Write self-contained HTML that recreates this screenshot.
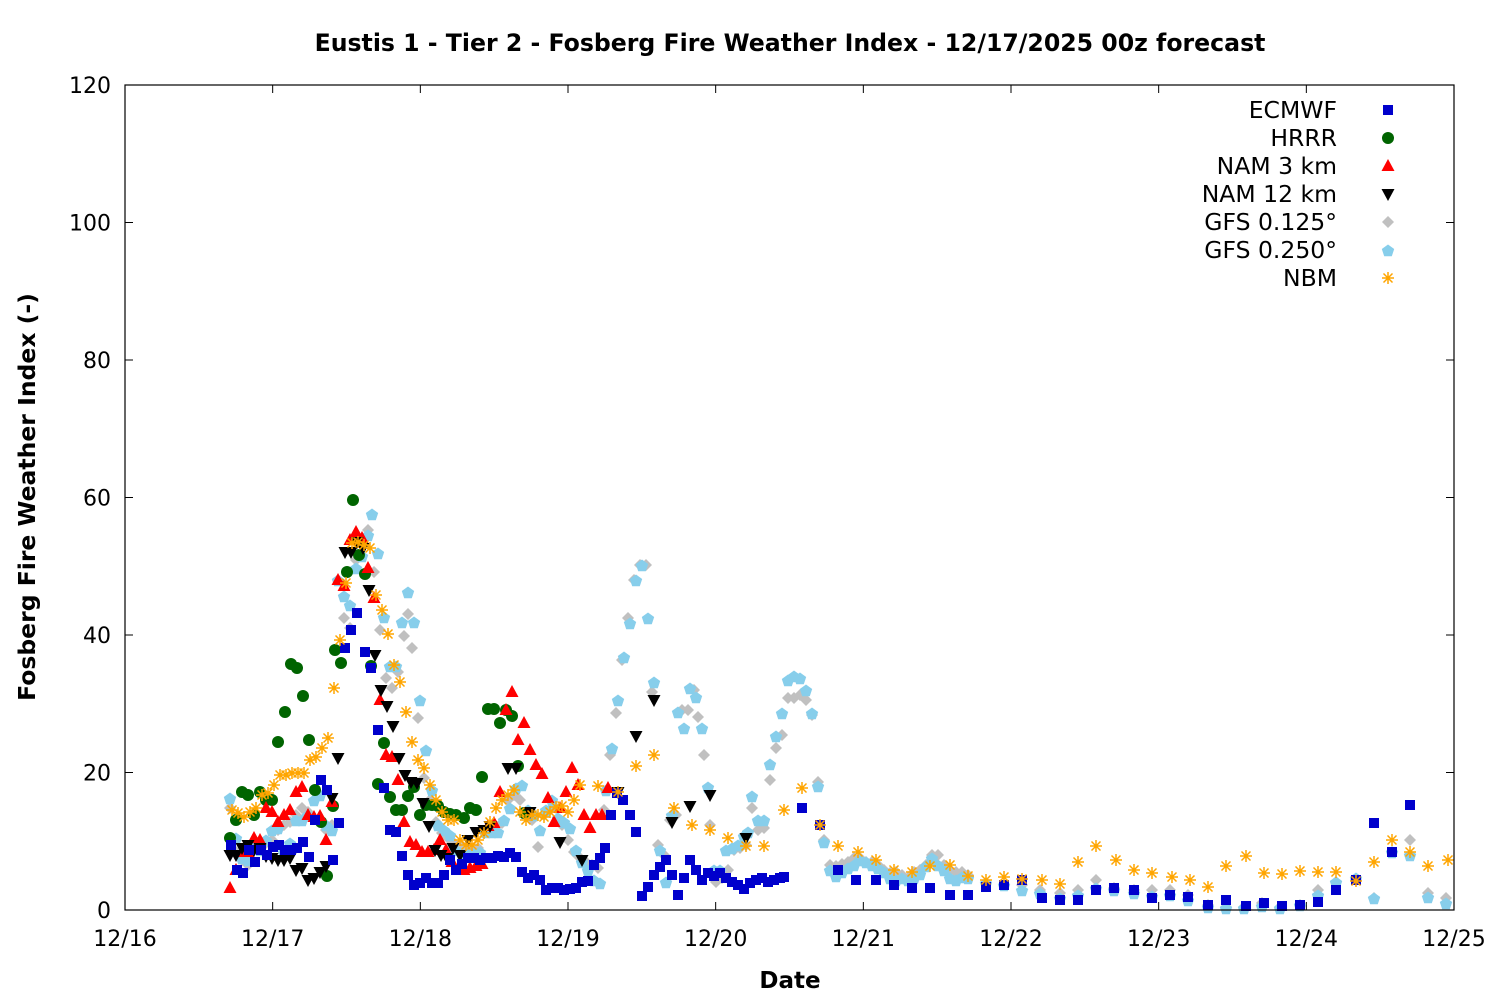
<!DOCTYPE html>
<html><head><meta charset="utf-8"><style>
html,body{margin:0;padding:0;background:#fff;}
svg text{font-family:"DejaVu Sans","Liberation Sans",sans-serif;}
</style></head><body>
<svg id="s" width="1500" height="1000" xmlns="http://www.w3.org/2000/svg">
<rect width="1500" height="1000" fill="#fff"/>
<text x="790" y="51" font-size="23.6" font-weight="bold" text-anchor="middle">Eustis 1 - Tier 2 - Fosberg Fire Weather Index - 12/17/2025 00z forecast</text>
<text x="790" y="988" font-size="23" font-weight="bold" text-anchor="middle">Date</text>
<text transform="translate(35,497) rotate(-90)" font-size="23.5" font-weight="bold" text-anchor="middle">Fosberg Fire Weather Index (-)</text>
<g id="ax"></g>
<g id="pts"></g>
<rect x="125" y="85" width="1329" height="825" fill="none" stroke="#000" stroke-width="1.2"/>
</svg>
<script>
const NS="http://www.w3.org/2000/svg";
const ax=document.getElementById('ax'),pts=document.getElementById('pts');
function el(p,t,a,txt){const e=document.createElementNS(NS,t);for(const k in a)e.setAttribute(k,a[k]);if(txt!==undefined)e.textContent=txt;p.appendChild(e);return e;}
for(let i=0;i<=6;i++){const y=910-i*137.5;
 el(ax,'line',{x1:125,y1:y,x2:133,y2:y,stroke:'#000'});el(ax,'line',{x1:1446,y1:y,x2:1454,y2:y,stroke:'#000'});
 el(ax,'text',{x:111,y:y+8,'font-size':22,'text-anchor':'end'},String(i*20));}
for(let i=0;i<=9;i++){const x=125+i*147.667;
 el(ax,'line',{x1:x,y1:910,x2:x,y2:902,stroke:'#000'});el(ax,'line',{x1:x,y1:85,x2:x,y2:93,stroke:'#000'});
 el(ax,'text',{x:x,y:946,'font-size':22,'text-anchor':'middle'},'12/'+(16+i));}
function mk(type,x,y){
 if(type==0)el(pts,'rect',{x:x-5,y:y-5,width:10,height:10,fill:'#0000cc'});
 else if(type==1)el(pts,'circle',{cx:x,cy:y,r:6,fill:'#006400'});
 else if(type==2)el(pts,'polygon',{points:`${x},${y-7} ${x+6.5},${y+5} ${x-6.5},${y+5}`,fill:'#ff0000'});
 else if(type==3)el(pts,'polygon',{points:`${x},${y+7} ${x+6.5},${y-5} ${x-6.5},${y-5}`,fill:'#000'});
 else if(type==4)el(pts,'polygon',{points:`${x},${y-6} ${x+6},${y} ${x},${y+6} ${x-6},${y}`,fill:'#c0c0c0'});
 else if(type==5){let p=[];for(let k=0;k<5;k++){const a=-Math.PI/2+k*2*Math.PI/5;p.push((x+6.5*Math.cos(a)).toFixed(1)+','+(y+1+6.5*Math.sin(a)).toFixed(1));}el(pts,'polygon',{points:p.join(' '),fill:'#87ceeb'});}
 else{const d=`M${x-6},${y}H${x+6}M${x},${y-6}V${y+6}M${x-4.5},${y-4.5}L${x+4.5},${y+4.5}M${x-4.5},${y+4.5}L${x+4.5},${y-4.5}`;el(pts,'path',{d:d,stroke:'#ffa500','stroke-width':1.5,fill:'none'});}
}
const D=[
[231,845,237,870,243,873,249,850,255,862,261,850,267,855,273,847,279,845,285,850,291,850,297,848,303,842,309,857,315,820,321,780,327,790,333,860,339,823,345,648,351,630,357,613,365,652,371,668,378,730,384,788,390,830,396,832,402,856,408,875,414,885,420,883,426,878,432,883,438,883,444,875,450,860,456,870,462,864,468,858,474,858,480,860,486,858,492,858,498,856,504,857,510,853,516,857,522,872,528,878,534,875,540,880,546,890,552,888,558,888,564,890,570,889,576,888,582,882,588,881,594,865,600,858,605,848,611,815,617,793,623,800,630,815,636,832,642,896,648,887,654,875,660,867,666,860,672,875,678,895,684,878,690,860,696,870,702,880,708,873,714,876,720,873,726,878,732,882,738,885,744,889,750,883,756,880,762,878,768,882,774,880,780,878,784,877,802,808,820,825,838,870,856,880,876,880,894,885,912,888,930,888,950,895,968,895,986,887,1004,885,1022,880,1042,898,1060,900,1078,900,1096,890,1114,888,1134,890,1152,898,1170,895,1188,897,1208,905,1226,900,1246,906,1264,903,1282,906,1300,905,1318,902,1336,890,1356,880,1374,823,1392,852,1410,805],
[230,838,236,820,242,792,248,795,254,815,260,792,266,800,272,800,278,742,285,712,291,664,297,668,303,696,309,740,315,790,321,822,327,876,333,806,335,650,341,663,347,572,353,500,359,555,365,574,371,666,378,784,384,743,390,797,396,810,402,810,408,796,414,787,420,815,426,805,432,805,438,806,444,812,450,814,456,815,464,818,470,808,476,810,482,777,488,709,494,709,500,723,506,710,512,716,518,766,524,813],
[230,888,236,870,242,852,248,852,254,838,260,840,266,808,272,812,278,822,284,815,290,810,296,792,302,787,308,815,314,817,320,816,326,840,332,802,338,580,344,586,350,540,356,532,362,538,368,568,374,598,380,700,386,755,392,757,398,780,404,822,410,842,416,845,422,852,428,852,434,850,440,840,446,850,452,862,458,869,464,870,470,868,476,866,482,864,488,826,494,823,500,792,506,710,512,692,518,740,524,723,530,750,536,765,542,774,548,798,554,822,560,808,566,792,572,768,578,785,584,815,590,828,596,815,602,815,608,788],
[230,855,236,855,242,848,248,845,254,850,260,848,266,856,272,858,278,860,284,860,290,858,296,870,302,868,308,880,314,878,320,872,326,866,332,798,338,758,345,552,351,552,357,542,363,548,369,590,375,655,381,690,387,706,393,726,399,758,405,775,411,782,417,783,423,803,429,826,435,850,441,855,447,858,453,848,460,855,468,840,476,832,484,830,490,826,508,768,516,768,530,812,560,842,582,860,618,792,636,736,654,700,672,822,690,806,710,795,746,838],
[230,808,236,852,242,860,248,865,254,850,260,848,266,843,272,840,278,830,284,825,290,822,296,815,302,808,308,812,314,800,320,795,326,830,332,825,338,580,344,618,350,628,356,560,362,540,368,530,374,572,380,630,386,678,392,688,398,672,404,636,408,614,412,648,418,718,424,778,430,800,436,822,442,833,448,838,454,843,460,845,466,848,472,852,478,848,484,833,490,828,496,826,502,823,508,800,514,795,520,800,526,812,532,820,538,847,544,815,550,810,556,808,562,825,568,840,574,852,580,858,586,862,592,865,598,868,604,810,610,755,616,713,622,660,628,618,634,580,640,565,646,565,652,692,658,845,664,855,670,820,676,815,682,710,688,710,694,690,698,717,704,755,710,825,716,882,722,878,728,870,734,850,740,848,746,845,752,808,758,830,764,828,770,780,776,748,782,735,788,698,794,698,800,695,806,700,812,715,818,782,824,840,830,865,836,866,842,864,848,862,854,858,860,858,866,862,872,862,878,865,884,870,890,873,896,872,902,875,908,878,914,872,920,870,926,865,932,855,938,855,944,865,950,870,956,872,962,872,968,875,986,883,1004,885,1022,885,1040,890,1060,893,1078,890,1096,880,1114,888,1134,890,1152,890,1170,890,1188,895,1208,905,1226,907,1244,907,1262,903,1280,907,1300,905,1318,890,1336,882,1356,880,1374,898,1392,852,1410,840,1428,893,1446,898],
[230,798,236,838,242,858,248,860,254,848,260,850,266,840,272,830,278,828,284,852,290,843,296,820,302,820,308,815,314,800,320,795,326,825,332,830,338,580,344,596,350,605,356,568,362,556,368,535,372,514,378,553,384,617,390,666,396,666,402,622,408,592,414,622,420,700,426,750,432,790,438,825,444,830,450,835,456,850,462,854,468,854,474,854,480,852,486,832,492,832,498,832,504,820,510,808,516,788,522,785,528,810,534,815,540,830,546,810,552,800,558,818,564,822,570,828,576,850,582,862,588,870,594,880,600,883,606,790,612,748,618,700,624,657,630,623,636,580,642,565,648,618,654,682,660,850,666,882,672,815,678,712,684,728,690,688,696,697,702,728,708,787,714,870,720,870,726,850,732,848,738,845,744,836,748,832,752,796,758,820,764,820,770,764,776,736,782,713,788,680,794,676,800,678,806,690,812,713,818,786,824,842,830,870,836,876,842,872,848,868,854,865,860,860,866,862,872,865,878,868,884,872,890,878,896,880,902,878,908,880,914,878,920,874,926,866,932,858,938,865,944,870,950,878,956,880,962,877,968,878,986,883,1004,885,1022,890,1040,893,1060,898,1078,895,1096,888,1114,890,1134,893,1152,896,1170,895,1188,900,1208,907,1226,908,1244,908,1262,906,1280,908,1300,905,1318,895,1336,882,1356,878,1374,898,1392,852,1410,855,1428,897,1446,903],
[232,810,238,813,244,817,250,812,256,808,262,795,268,793,274,785,280,775,286,775,292,773,298,773,304,773,310,760,316,757,322,748,328,738,334,688,340,640,346,583,352,543,358,542,364,545,370,548,376,595,382,610,388,634,394,665,400,682,406,712,412,742,418,760,424,768,430,785,436,800,442,812,448,820,454,820,460,840,466,845,472,845,478,840,484,833,490,822,496,808,502,800,508,795,514,790,520,812,526,820,532,815,538,815,544,817,550,812,556,807,562,806,568,812,574,800,580,785,598,786,618,792,636,766,654,755,674,808,692,825,710,830,728,838,746,846,764,846,784,810,802,788,820,825,838,846,858,852,876,860,894,870,912,872,930,866,950,865,968,876,986,880,1004,877,1022,879,1042,880,1060,884,1078,862,1096,846,1116,860,1134,870,1152,873,1172,877,1190,880,1208,887,1226,866,1246,856,1264,873,1282,874,1300,871,1318,872,1336,872,1356,881,1374,862,1392,840,1410,852,1428,866,1448,860]];
const order=[4,5,1,2,3,0,6];
for(const t of order){const a=D[t];for(let i=0;i<a.length;i+=2)mk(t,a[i],a[i+1]);}
const names=['ECMWF','HRRR','NAM 3 km','NAM 12 km','GFS 0.125°','GFS 0.250°','NBM'];
for(let i=0;i<7;i++){const y=110+i*28;el(pts,'text',{x:1337,y:y+8,'font-size':23.5,'text-anchor':'end'},names[i]);mk(i,1388,y);}
</script>
</body></html>
